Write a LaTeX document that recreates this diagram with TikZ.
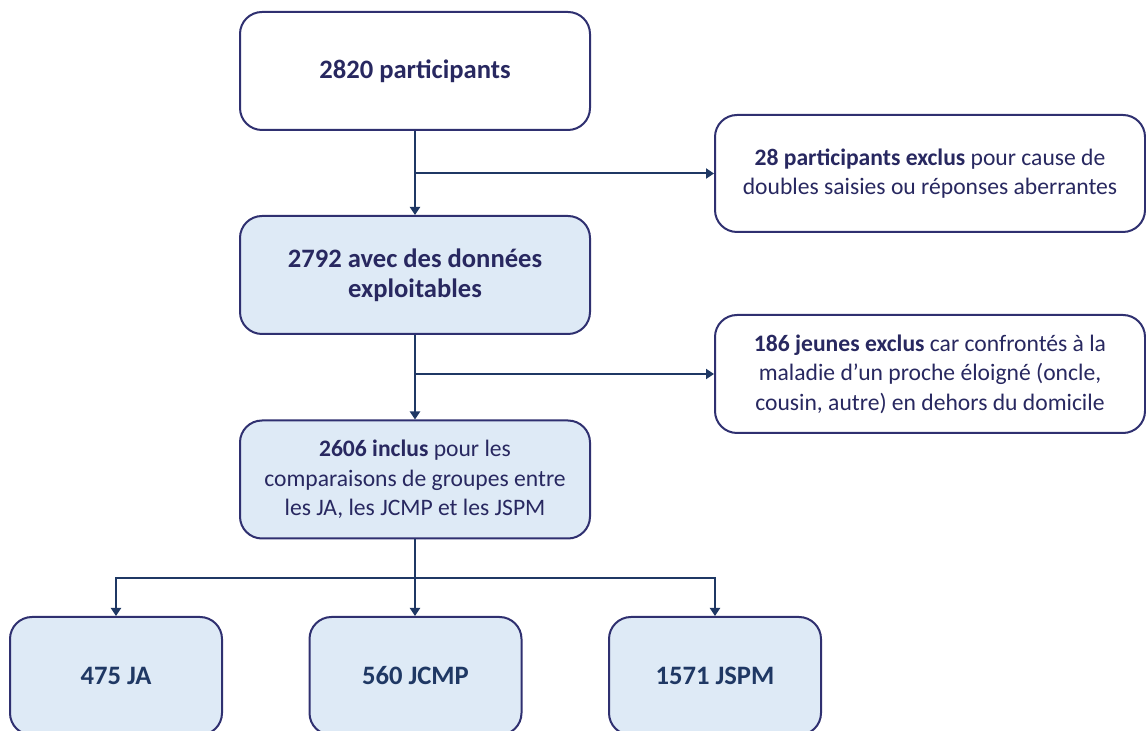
\documentclass[tikz,border=0pt]{standalone}
\usepackage{fontspec}
\setmainfont{Carlito}
\usetikzlibrary{positioning,arrows.meta}

\definecolor{navytext}{RGB}{40,40,96}
\definecolor{boxline}{RGB}{47,48,112}
\definecolor{arrowblue}{HTML}{1F3864}
\definecolor{paleblue}{HTML}{DEEAF6}

\tikzset{
	flowbox/.style={draw=boxline, line width=1pt, rounded corners=11pt, minimum width=175pt, minimum height=59pt, align=center, text=navytext, font=\fontsize{13.3}{15}\selectfont, inner sep=0pt},
	smalltext/.style={font=\fontsize{11.8}{14.7}\selectfont},
	keptbox/.style={flowbox, fill=paleblue},
	exclbox/.style={flowbox, smalltext, fill=white, minimum width=215pt, minimum height=58.5pt},
	groupbox/.style={keptbox, minimum width=106pt, text=arrowblue},
	flowarrow/.style={draw=arrowblue, line width=1pt, -{Triangle[length=4pt,width=5pt]}}
}

\begin{document}
\begin{tikzpicture}[x=0.5pt, y=-0.5pt]
				\clip (0,0) rectangle (1146,731);
				\node (total) [flowbox, fill=white] at (415,71) {\textbf{2820 participants}};
				\node (usable) [keptbox] at (415,275) {\textbf{2792 avec des données}\\\textbf{exploitables}};
				\node (incl) [keptbox, smalltext] at (415,479.5) {\textbf{2606 inclus} pour les\\comparaisons de groupes entre\\les JA, les JCMP et les JSPM};
				\node (excla) [exclbox] at (930,173.5) {\textbf{28 participants exclus} pour cause de\\doubles saisies ou réponses aberrantes};
				\node (exclb) [exclbox, minimum height=59pt] at (930,374) {\textbf{186 jeunes exclus} car confrontés à la\\maladie d’un proche éloigné (oncle,\\cousin, autre) en dehors du domicile};
				\node (ja) [groupbox] at (116,676) {\textbf{475 JA}};
				\node (jcmp) [groupbox] at (415.5,676) {\textbf{560 JCMP}};
				\node (jspm) [groupbox] at (715,676) {\textbf{1571 JSPM}};
				\coordinate (fork) at (415,578);
				
				% Arrows
				\draw[flowarrow] (total) -- (usable);
				\draw[flowarrow] (total.south |- excla.west) -- (excla.west);
				\draw[flowarrow] (usable) -- (incl);
				\draw[flowarrow] (usable.south |- exclb.west) -- (exclb.west);
				\draw[draw=arrowblue, line width=1pt] (incl.south) -- (fork);
				\draw[flowarrow] (fork) -| (ja);
				\draw[flowarrow] (fork) -- (fork |- jcmp.north);
				\draw[flowarrow] (fork) -| (jspm);
			\end{tikzpicture}
\end{document}
